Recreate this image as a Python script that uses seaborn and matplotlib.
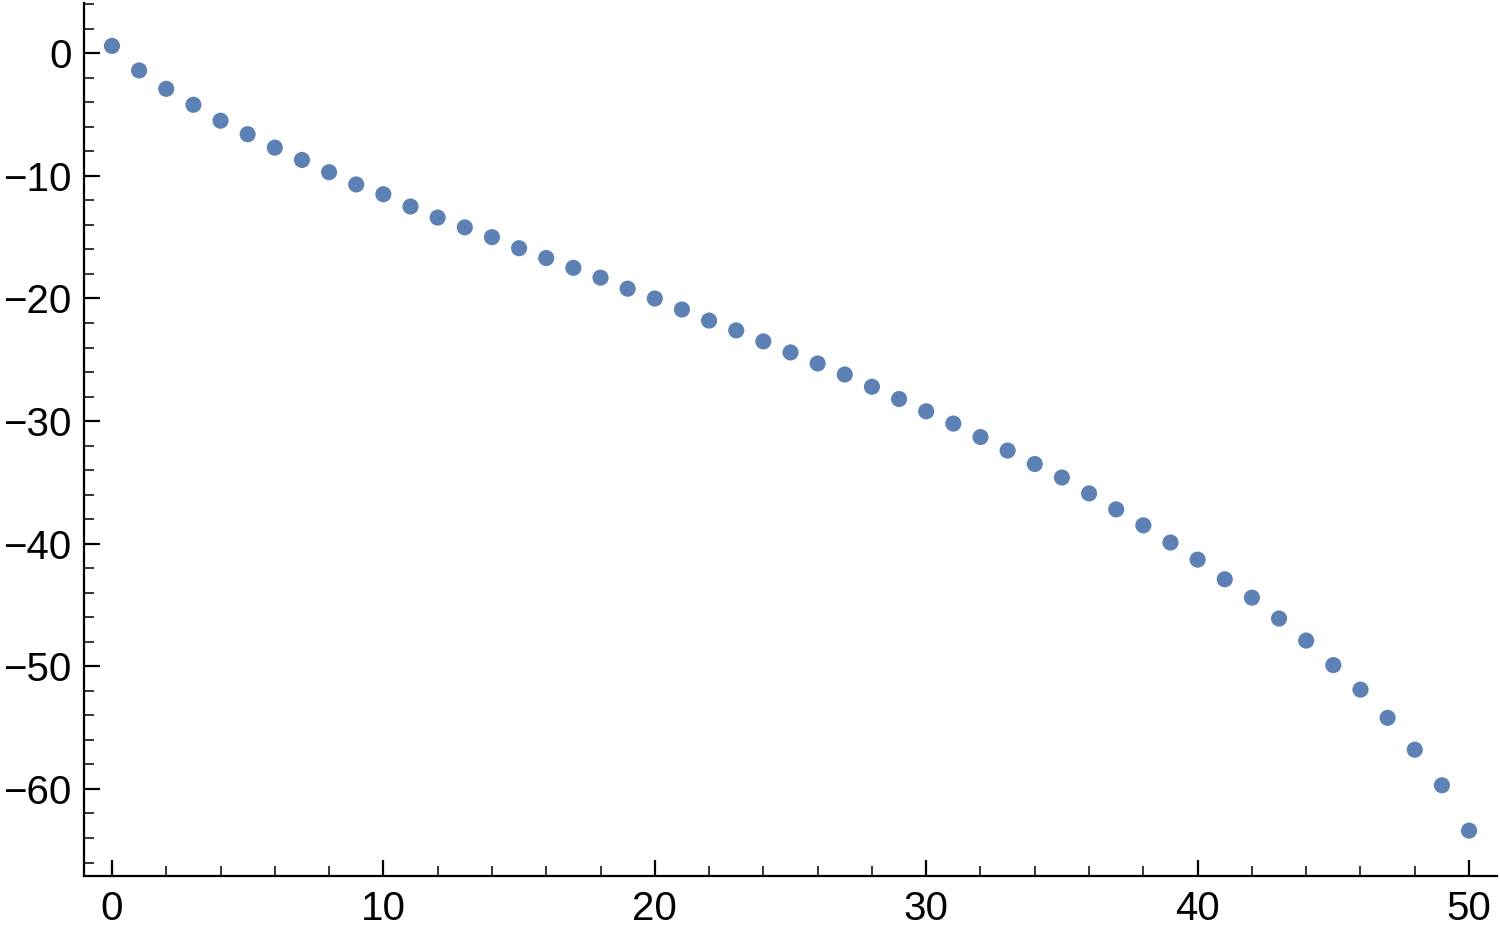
import matplotlib
matplotlib.use("Agg")
import matplotlib.pyplot as plt
import seaborn as sns
import numpy as np
import pandas as pd
from matplotlib.ticker import MultipleLocator

x_vals = list(range(0, 51))
y_vals = [0.6, -1.4, -2.9, -4.2, -5.5, -6.6, -7.7, -8.7, -9.7, -10.7,
          -11.5, -12.5, -13.4, -14.2, -15.0, -15.9, -16.7, -17.5, -18.3, -19.2,
          -20.0, -20.9, -21.8, -22.6, -23.5, -24.4, -25.3, -26.2, -27.2, -28.2,
          -29.2, -30.2, -31.3, -32.4, -33.5, -34.6, -35.9, -37.2, -38.5, -39.9,
          -41.3, -42.9, -44.4, -46.1, -47.9, -49.9, -51.9, -54.2, -56.8, -59.7,
          -63.4]

df = pd.DataFrame({"x": x_vals, "y": y_vals})

sns.set_style("ticks")
plt.rcParams['font.family'] = ['Liberation Sans', 'DejaVu Sans']

fig = plt.figure(figsize=(15, 9.36), dpi=100)
ax = fig.add_axes([0.056, 0.0641, 0.942, 0.9327])

sns.scatterplot(data=df, x="x", y="y", ax=ax, s=135, color="#5E81B5",
                edgecolor="none", linewidth=0)

ax.set_xlim(-1.03, 51.03)
ax.set_ylim(-67.1, 4.1)
ax.xaxis.set_major_locator(MultipleLocator(10))
ax.xaxis.set_minor_locator(MultipleLocator(2))
ax.yaxis.set_major_locator(MultipleLocator(10))
ax.yaxis.set_minor_locator(MultipleLocator(2))
ax.set_xlabel("")
ax.set_ylabel("")

for s in ["top", "right"]:
    ax.spines[s].set_visible(False)
for s in ["left", "bottom"]:
    ax.spines[s].set_linewidth(1.6)
    ax.spines[s].set_color("black")

ax.tick_params(which="major", direction="in", length=11.5, width=1.6,
               labelsize=29, colors="black")
ax.tick_params(which="minor", direction="in", length=7, width=1.3)
ax.tick_params(axis="y", which="major", pad=9)
ax.tick_params(axis="x", which="major", pad=10)

fig.savefig("out.png", dpi=100)
